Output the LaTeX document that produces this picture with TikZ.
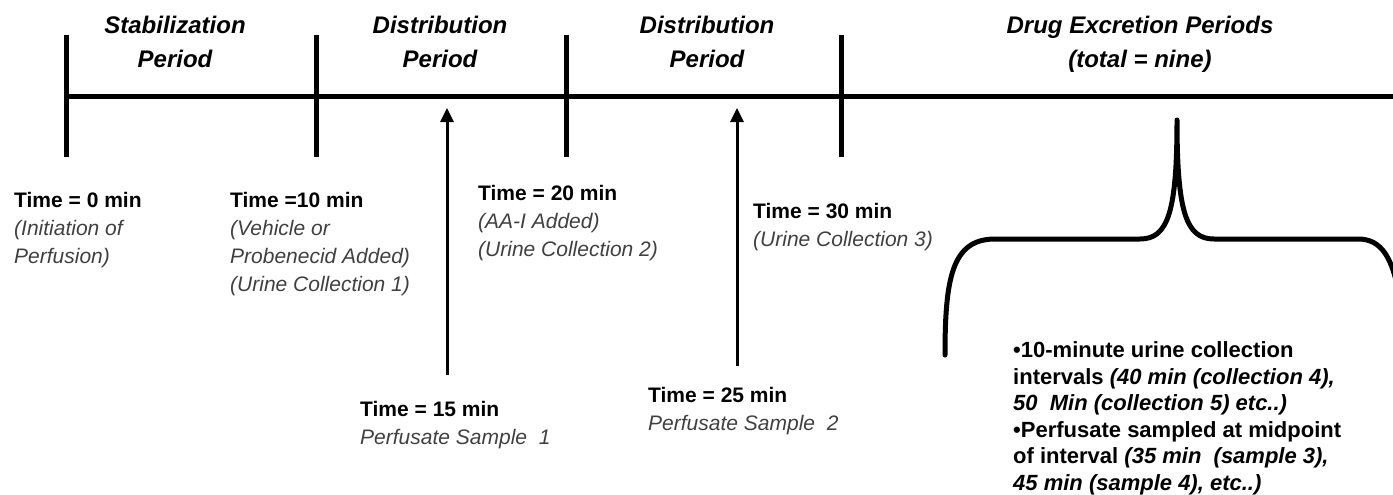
\documentclass[tikz,border=0pt]{standalone}
\usepackage{fontspec}
\setmainfont{Liberation Sans}
\usetikzlibrary{arrows.meta}
\definecolor{notegray}{HTML}{404040}
\newcommand\gnote[1]{{\color{notegray}\itshape #1}}
\newcommand\bnote[1]{{\itshape #1}}
\begin{document}
\begin{tikzpicture}[x=1pt,y=-1pt,
  axisline/.style={line width=5pt},
  tickline/.style={line width=5pt},
  probe/.style={line width=3pt,-{Triangle[length=14pt,width=13pt]}},
  bracket/.style={line width=5pt,line join=round,line cap=round},
  % multi-line nodes are placed by the baseline of their last line
  period/.style={font=\fontsize{24}{35}\selectfont\bfseries\itshape,align=center,anchor=base,inner sep=0pt},
  stamp/.style={font=\fontsize{21}{28}\selectfont,align=left,anchor=base west,inner sep=0pt},
  summary/.style={font=\fontsize{22}{26.5}\selectfont\bfseries,align=left,anchor=base west,inner sep=0pt},
]
\useasboundingbox (0,0) rectangle (1393,495);
\clip (0,0) rectangle (1393,495);

% timeline and period boundaries
\coordinate (a0) at (64,97);
\coordinate (aend) at (1400,97);
\draw[axisline] (a0) -- (aend);
\foreach \n/\x in {t0/66,t10/316,t20/566,t30/841}{
  \coordinate (\n top) at (\x,35);
  \coordinate (\n bot) at (\x,157);
  \draw[tickline] (\n top) -- (\n bot);
}

% period headings
\node[period] (stab) at (175,68) {Stabilization\\Period};
\node[period] (dist1) at (440,68) {Distribution\\Period};
\node[period] (dist2) at (707,68) {Distribution\\Period};
\node[period] (excr) at (1140,68) {Drug Excretion Periods\\(total = nine)};

% event labels
\node[stamp] (s0) at (14,263) {\textbf{Time = 0 min}\\\gnote{(Initiation of}\\\gnote{Perfusion)}};
\node[stamp] (s10) at (230,291) {\textbf{Time =10 min}\\\gnote{(Vehicle or}\\\gnote{Probenecid Added)}\\\gnote{(Urine Collection 1)}};
\node[stamp] (s20) at (478,256) {\textbf{Time = 20 min}\\\gnote{(AA-I Added)}\\\gnote{(Urine Collection 2)}};
\node[stamp] (s30) at (753,246) {\textbf{Time = 30 min}\\\gnote{(Urine Collection 3)}};
\node[stamp] (s15) at (360,444) {\textbf{Time = 15 min}\\\gnote{Perfusate Sample\ \ 1}};
\node[stamp] (s25) at (648,430) {\textbf{Time = 25 min}\\\gnote{Perfusate Sample\ \ 2}};

% perfusate sampling arrows
\coordinate (p15) at (447,375);
\coordinate (p15a) at (447,108);
\coordinate (p25) at (737,366);
\coordinate (p25a) at (737,108);
\draw[probe] (p15) -- (p15a);
\draw[probe] (p25) -- (p25a);

% brace over the excretion periods
\coordinate (bl) at (945,355);
\coordinate (bc) at (1177,120);
\coordinate (br) at (1400,300);
\draw[bracket] (bl) .. controls (945,278) and (952,239) .. (995,239)
  -- (1140,239) .. controls (1168,239) and (1177,212) .. (bc)
  .. controls (1177,212) and (1186,239) .. (1214,239)
  -- (1358,239) .. controls (1382,239) and (1393,258) .. (br);

% excretion period notes
\node[summary] (notes) at (1013,490) {\textbullet10-minute urine collection\\
 intervals \bnote{(40 min (collection 4),}\\
\bnote{50\ \ Min (collection 5) etc..)}\\
\textbullet Perfusate sampled at midpoint\\
 of interval \bnote{(35 min\ \ (sample 3),}\\
\bnote{45 min (sample 4), etc..)}};
\end{tikzpicture}
\end{document}
